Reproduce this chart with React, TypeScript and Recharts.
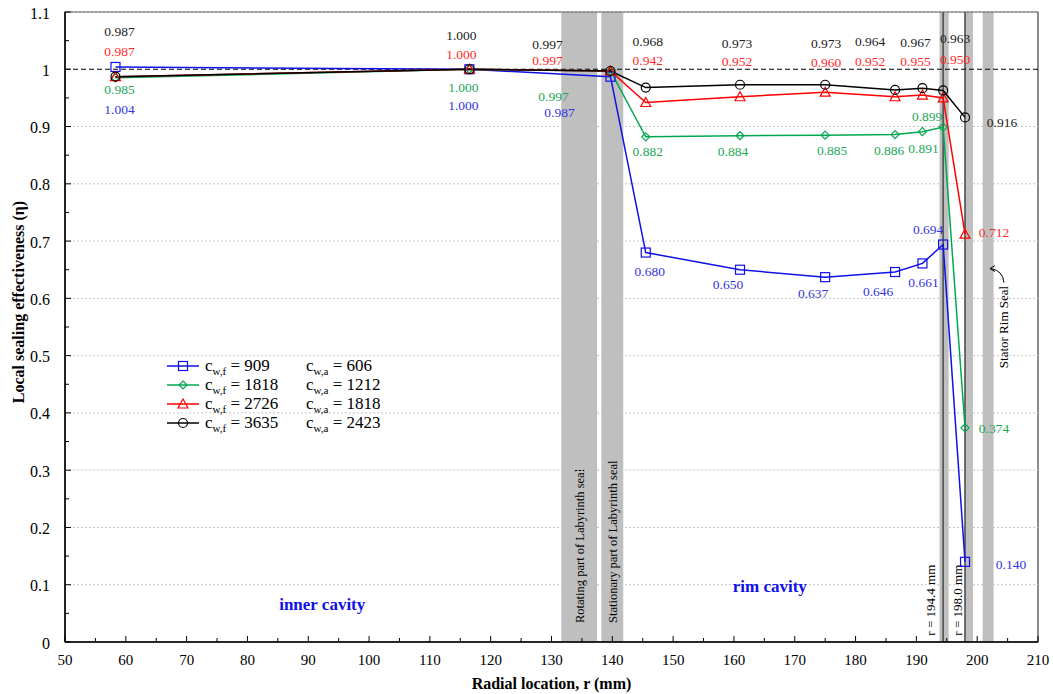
import React from "react";
import {
  LineChart,
  Line,
  XAxis,
  YAxis,
  ReferenceLine,
  ReferenceArea,
  ReferenceDot,
  Legend,
} from "recharts";

// radial measurement positions (mm)
const R = [58.3, 116.5, 139.7, 145.5, 161.0, 175.0, 186.5, 191.0, 194.4, 198.0];

// local sealing effectiveness per coolant flow case
const ETA_909 = [1.004, 1.0, 0.987, 0.68, 0.65, 0.637, 0.646, 0.661, 0.694, 0.14];
const ETA_1818 = [0.985, 1.0, 0.997, 0.882, 0.884, 0.885, 0.886, 0.891, 0.899, 0.374];
const ETA_2726 = [0.987, 1.0, 0.997, 0.942, 0.952, 0.96, 0.952, 0.955, 0.95, 0.712];
const ETA_3635 = [0.987, 1.0, 0.997, 0.968, 0.973, 0.973, 0.964, 0.967, 0.963, 0.916];

const X_TICKS = [50, 55, 60, 65, 70, 75, 80, 85, 90, 95, 100, 105, 110, 115, 120, 125, 130, 135, 140, 145, 150, 155, 160, 165, 170, 175, 180, 185, 190, 195, 200, 205, 210];
const Y_TICKS = [0, 0.05, 0.1, 0.15, 0.2, 0.25, 0.3, 0.35, 0.4, 0.45, 0.5, 0.55, 0.6, 0.65, 0.7, 0.75, 0.8, 0.85, 0.9, 0.95, 1.0, 1.05, 1.1];
const GRID_Y = [0.1, 0.2, 0.3, 0.4, 0.5, 0.6, 0.7, 0.8, 0.9, 1.1];

// seal bands (mm)
const BANDS = [
  { x1: 131.6, x2: 137.5, text: "Rotating part of Labyrinth seal" },
  { x1: 138.2, x2: 141.8, text: "Stationary part of Labyrinth seal" },
  { x1: 193.8, x2: 195.3, text: "" },
  { x1: 197.9, x2: 199.3, text: "" },
  { x1: 200.9, x2: 202.7, text: "" },
];
const SEAL_LINES = [194.4, 198.0];

const SERIES = [
  { key: "s909", values: ETA_909, cf: "909", ca: "606", color: "#1010e8", text: "#3434e0", marker: "square" },
  { key: "s1818", values: ETA_1818, cf: "1818", ca: "1212", color: "#00a94f", text: "#22a857", marker: "diamond" },
  { key: "s2726", values: ETA_2726, cf: "2726", ca: "1818", color: "#ff0000", text: "#ff2a2a", marker: "triangle" },
  { key: "s3635", values: ETA_3635, cf: "3635", ca: "2423", color: "#000000", text: "#222222", marker: "circle" },
];

// label offsets from each point (px)
const LABEL_OFFSETS: Record<string, [number, number][]> = {
  s909: [[4, 43], [-6, 36], [-51, 36], [4, 19], [-12, 15], [-12, 16], [-17, 19], [1, 19], [-15, -15], [46, 3]],
  s1818: [[4, 12], [-6, 18], [-57, 26], [2, 15], [-7, 16], [7, 15], [-6, 16], [1, 17], [-16, -11], [29, 1]],
  s2726: [[4, -25], [-8, -15], [-63, -10], [2, -42], [-3, -35], [1, -30], [-25, -35], [-7, -34], [12, -38], [29, -2]],
  s3635: [[4, -45], [-8, -34], [-63, -26], [2, -46], [-3, -41], [1, -41], [-25, -48], [-7, -46], [12, -52], [37, 5]],
};

const data = R.map((r, i) => ({
  r,
  s909: ETA_909[i],
  s1818: ETA_1818[i],
  s2726: ETA_2726[i],
  s3635: ETA_3635[i],
}));

const SERIF = '"Liberation Serif", "Times New Roman", serif';

function Marker({ type, x, y, color }: { type: string; x: number; y: number; color: string }) {
  const common = { fill: "none", stroke: color, strokeWidth: 1.2 };
  if (type === "square") return <rect x={x - 4.5} y={y - 4.5} width={9} height={9} {...common} />;
  if (type === "diamond") return <path d={`M${x},${y - 4}L${x + 4},${y}L${x},${y + 4}L${x - 4},${y}Z`} {...common} />;
  if (type === "triangle") return <path d={`M${x},${y - 5}L${x + 5},${y + 4}L${x - 5},${y + 4}Z`} {...common} />;
  return <circle cx={x} cy={y} r={4.5} {...common} />;
}

function makeDot(s: (typeof SERIES)[number]) {
  return (props: any) => {
    const { cx, cy, index, payload } = props;
    if (cx == null || cy == null) return <g key={`${s.key}-${index}`} />;
    const [dx, dy] = LABEL_OFFSETS[s.key][index];
    return (
      <g key={`${s.key}-${index}`}>
        <Marker type={s.marker} x={cx} y={cy} color={s.color} />
        <text
          x={cx + dx}
          y={cy + dy}
          textAnchor="middle"
          dominantBaseline="central"
          fontFamily={SERIF}
          fontSize={13.5}
          fill={s.text}
        >
          {payload[s.key].toFixed(3)}
        </text>
      </g>
    );
  };
}

function XTick({ x, y, payload }: any) {
  const v = payload.value;
  const major = v % 10 === 0;
  return (
    <g>
      <line x1={x} y1={y} x2={x} y2={y - (major ? 6 : 4)} stroke="#000" />
      {major && (
        <text x={x} y={y + 23} textAnchor="middle" fontFamily={SERIF} fontSize={15} fill="#000">
          {v}
        </text>
      )}
    </g>
  );
}

function YTick({ x, y, payload }: any) {
  const v = payload.value;
  const major = Math.round(v * 100) % 10 === 0;
  return (
    <g>
      <line x1={x} y1={y} x2={x + (major ? 6 : 4)} y2={y} stroke="#000" />
      {major && (
        <text x={x - 15} y={y + 1} textAnchor="end" dominantBaseline="central" fontFamily={SERIF} fontSize={16} fill="#000">
          {String(Math.round(v * 10) / 10)}
        </text>
      )}
    </g>
  );
}

function LegendBox() {
  return (
    <div style={{ fontFamily: SERIF, fontSize: 17, color: "#000", lineHeight: "19px" }}>
      {SERIES.map((s) => (
        <div key={s.key} style={{ display: "flex", alignItems: "center", height: 19 }}>
          <svg width={40} height={14} style={{ flex: "none" }}>
            <line x1={2} y1={7} x2={34} y2={7} stroke={s.color} strokeWidth={1.5} />
            <Marker type={s.marker} x={18} y={7} color={s.color} />
          </svg>
          <span style={{ width: 101, whiteSpace: "nowrap", lineHeight: "19px" }}>
            c<sub style={{ fontSize: 11, lineHeight: 0 }}>w,f</sub> = {s.cf}
          </span>
          <span style={{ whiteSpace: "nowrap", lineHeight: "19px" }}>
            c<sub style={{ fontSize: 11, lineHeight: 0 }}>w,a</sub> = {s.ca}
          </span>
        </div>
      ))}
    </div>
  );
}

function TextAt({ cx, cy, text, color = "#000", size = 13, bold = false, rotate = false }: any) {
  return (
    <text
      x={cx}
      y={cy}
      textAnchor="middle"
      dominantBaseline="central"
      fontFamily={SERIF}
      fontSize={size}
      fontWeight={bold ? "bold" : "normal"}
      fill={color}
      transform={rotate ? `rotate(-90, ${cx}, ${cy})` : undefined}
    >
      {text}
    </text>
  );
}

export default function App() {
  return (
    <div style={{ width: 1053, height: 694, position: "relative", background: "#fff" }}>
      <style>{`body{margin:0}`}</style>
      <LineChart width={1053} height={694} data={data} margin={{ top: 12, right: 15, bottom: 0, left: 0 }}>
        {BANDS.map((b, i) => (
          <ReferenceArea
            key={`band-${i}`}
            x1={b.x1}
            x2={b.x2}
            y1={0}
            y2={1.1}
            fill="#bfbfbf"
            fillOpacity={1}
            stroke="none"
            label={
              b.text
                ? (p: any) => {
                    const vb = p.viewBox;
                    const cx = vb.x + vb.width / 2 + 1;
                    const by = vb.y + vb.height - 19;
                    return (
                      <text
                        x={cx}
                        y={by}
                        textAnchor="start"
                        dominantBaseline="central"
                        fontFamily={SERIF}
                        fontSize={12.5}
                        fill="#000"
                        transform={`rotate(-90, ${cx}, ${by})`}
                      >
                        {b.text}
                      </text>
                    );
                  }
                : undefined
            }
          />
        ))}
        {GRID_Y.map((g) => (
          <ReferenceLine key={`g-${g}`} y={g} stroke="#c4c4c4" strokeDasharray="2 2" />
        ))}
        {SEAL_LINES.map((v) => (
          <ReferenceLine key={`sl-${v}`} x={v} stroke="#4a4a4a" strokeWidth={1.5} />
        ))}
        <ReferenceLine y={1} stroke="#000" strokeDasharray="5 3" strokeWidth={1.2} />
        <ReferenceArea x1={50} x2={210} y1={0} y2={1.1} fill="none" stroke="#404040" strokeWidth={1.2} />
        <XAxis
          type="number"
          dataKey="r"
          domain={[50, 210]}
          ticks={X_TICKS}
          interval={0}
          height={52}
          tickSize={0}
          tickMargin={0}
          tick={<XTick />}
          axisLine={{ stroke: "#000", strokeWidth: 1.5 }}
          allowDataOverflow
          label={(p: any) => (
            <text
              x={p.viewBox.x + p.viewBox.width / 2}
              y={683}
              textAnchor="middle"
              dominantBaseline="central"
              fontFamily={SERIF}
              fontSize={16}
              fontWeight="bold"
            >
              Radial location, r (mm)
            </text>
          )}
        />
        <YAxis
          type="number"
          domain={[0, 1.1]}
          ticks={Y_TICKS}
          interval={0}
          width={65}
          tickSize={0}
          tickMargin={0}
          tick={<YTick />}
          axisLine={{ stroke: "#000", strokeWidth: 1.5 }}
          allowDataOverflow
          label={(p: any) => {
            const cy = p.viewBox.y + p.viewBox.height / 2 - 25;
            return (
              <text
                x={18}
                y={cy}
                textAnchor="middle"
                dominantBaseline="central"
                fontFamily={SERIF}
                fontSize={16}
                fontWeight="bold"
                transform={`rotate(-90, 18, ${cy})`}
              >
                Local sealing effectiveness (η)
              </text>
            );
          }}
        />
        {SERIES.map((s) => (
          <Line
            key={s.key}
            type="linear"
            dataKey={s.key}
            stroke={s.color}
            strokeWidth={1.5}
            dot={makeDot(s)}
            activeDot={false}
            isAnimationActive={false}
          />
        ))}
        <ReferenceDot x={92.3} y={0.066} r={0} shape={(p: any) => <TextAt cx={p.cx} cy={p.cy} text="inner cavity" color="#1010e8" size={17} bold />} />
        <ReferenceDot x={165.9} y={0.097} r={0} shape={(p: any) => <TextAt cx={p.cx} cy={p.cy} text="rim cavity" color="#1010e8" size={17} bold />} />
        <ReferenceDot x={192.3} y={0.073} r={0} shape={(p: any) => <TextAt cx={p.cx} cy={p.cy} text="r = 194.4 mm" rotate />} />
        <ReferenceDot x={196.8} y={0.073} r={0} shape={(p: any) => <TextAt cx={p.cx} cy={p.cy} text="r = 198.0 mm" rotate />} />
        <ReferenceDot x={204.3} y={0.55} r={0} shape={(p: any) => <TextAt cx={p.cx} cy={p.cy} text="Stator Rim Seal" rotate />} />
        <ReferenceDot
          x={202.1}
          y={0.652}
          r={0}
          shape={(p: any) => (
            <g fill="none" stroke="#000" strokeWidth={1}>
              <path d={`M${p.cx + 14},${p.cy + 14} Q${p.cx + 13},${p.cy + 2} ${p.cx + 1},${p.cy}`} />
              <path d={`M${p.cx + 5},${p.cy - 3} L${p.cx},${p.cy} L${p.cx + 5},${p.cy + 3}`} />
            </g>
          )}
        />
        <Legend
          layout="vertical"
          align="center"
          verticalAlign="middle"
          content={() => <LegendBox />}
          wrapperStyle={{ position: "absolute", left: 165, top: 356, width: 240 }}
        />
      </LineChart>
    </div>
  );
}
